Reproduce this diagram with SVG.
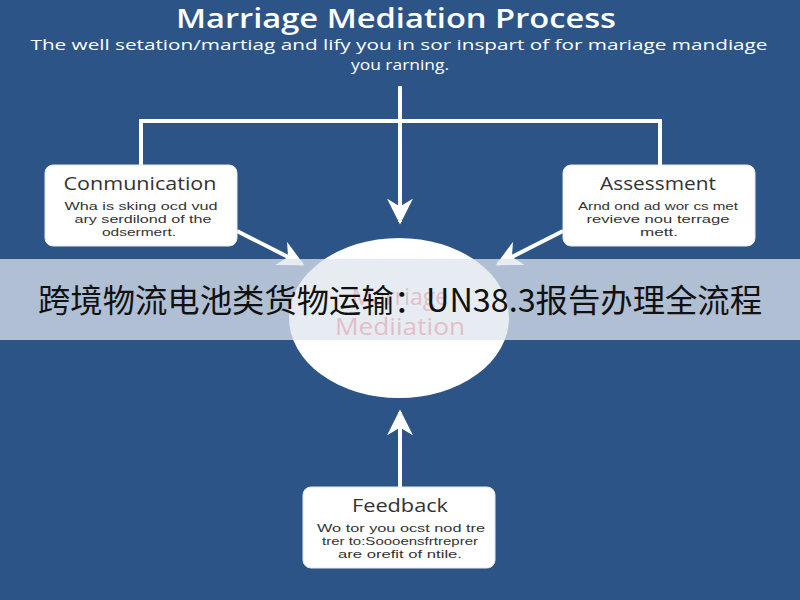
<svg xmlns="http://www.w3.org/2000/svg" width="800" height="600" viewBox="0 0 800 600">
<defs>
<marker id="ah" viewBox="0 0 10 10" refX="9" refY="5" markerWidth="6.5" markerHeight="6.5" markerUnits="strokeWidth" orient="auto">
<path d="M0,0 L10,5 L0,10 L3,5 Z" fill="#ffffff"/>
</marker>
<style>
.title{font-family:"Open Sans","Liberation Sans",sans-serif;font-size:27px;font-weight:600;fill:#ffffff;text-anchor:middle}
.sub{font-family:"Open Sans","Liberation Sans",sans-serif;font-size:15px;fill:#ffffff;text-anchor:middle}
.box{fill:#ffffff;stroke:#e6e9ee;stroke-width:1}
.bt{font-family:"Open Sans","Liberation Sans",sans-serif;font-size:18px;fill:#333333;text-anchor:middle}
.bb{font-family:"Liberation Sans","DejaVu Sans",sans-serif;font-size:11px;fill:#333333;text-anchor:middle}
.conn{stroke:#ffffff;stroke-width:4;fill:none}
.ct{font-family:"Open Sans","Liberation Sans",sans-serif;font-size:23px;fill:#f04a5a;text-anchor:middle}
.ban{font-family:"Noto Sans CJK SC","Noto Sans",sans-serif;font-size:32px;fill:#111111;text-anchor:middle}
</style>
</defs>
<rect x="0" y="0" width="800" height="600" fill="#2c5487"/>
<text class="title" x="396" y="28" textLength="440" lengthAdjust="spacingAndGlyphs">Marriage Mediation Process</text>
<text class="sub" x="399" y="50" textLength="737" lengthAdjust="spacingAndGlyphs">The well setation/martiag and lify you in sor inspart of for mariage mandiage</text>
<text class="sub" x="400" y="70" textLength="98" lengthAdjust="spacingAndGlyphs">you rarning.</text>

<g id="connectors">
<line class="conn" x1="400" y1="86" x2="400" y2="222" marker-end="url(#ah)"/>
<polyline class="conn" points="141,166 141,121 660,121 660,166"/>
<line class="conn" x1="237" y1="231" x2="302" y2="264" marker-end="url(#ah)"/>
<line class="conn" x1="563" y1="231" x2="498" y2="264" marker-end="url(#ah)"/>
<line class="conn" x1="400" y1="488" x2="400" y2="412" marker-end="url(#ah)"/>
</g>

<g id="communication">
<rect class="box" x="45" y="165" width="192" height="81" rx="8"/>
<text class="bt" x="140" y="190" textLength="153" lengthAdjust="spacingAndGlyphs">Conmunication</text>
<text class="bb" x="141" y="210" textLength="153" lengthAdjust="spacingAndGlyphs">Wha is sking ocd vud</text>
<text class="bb" x="143" y="223" textLength="137" lengthAdjust="spacingAndGlyphs">ary serdilond of the</text>
<text class="bb" x="139" y="236" textLength="74" lengthAdjust="spacingAndGlyphs">odsermert.</text>
</g>

<g id="assessment">
<rect class="box" x="563" y="165" width="192" height="81" rx="8"/>
<text class="bt" x="658" y="190" textLength="116" lengthAdjust="spacingAndGlyphs">Assessment</text>
<text class="bb" x="658" y="210" textLength="160" lengthAdjust="spacingAndGlyphs">Arnd ond ad wor cs met</text>
<text class="bb" x="658" y="223" textLength="143" lengthAdjust="spacingAndGlyphs">revieve nou terrage</text>
<text class="bb" x="659" y="236" textLength="38" lengthAdjust="spacingAndGlyphs">mett.</text>
</g>

<g id="mediation">
<ellipse cx="399" cy="318" rx="110" ry="80" fill="#ffffff"/>
<text class="ct" x="400" y="305">Marriage</text>
<text class="ct" x="400" y="335" textLength="130" lengthAdjust="spacingAndGlyphs">Mediiation</text>
</g>

<g id="feedback">
<rect class="box" x="303" y="487" width="192" height="81" rx="8"/>
<text class="bt" x="400" y="512" textLength="96" lengthAdjust="spacingAndGlyphs">Feedback</text>
<text class="bb" x="401" y="532" textLength="168" lengthAdjust="spacingAndGlyphs">Wo tor you ocst nod tre</text>
<text class="bb" x="400" y="545" textLength="156" lengthAdjust="spacingAndGlyphs">trer to:Soooensfrtreprer</text>
<text class="bb" x="400" y="558" textLength="124" lengthAdjust="spacingAndGlyphs">are orefit of ntile.</text>
</g>

<g id="banner">
<rect x="0" y="259" width="800" height="81" fill="#dfe5ee" opacity="0.74"/>
<text class="ban" x="400" y="312" textLength="724" lengthAdjust="spacingAndGlyphs">跨境物流电池类货物运输：UN38.3报告办理全流程</text>
</g>
</svg>
